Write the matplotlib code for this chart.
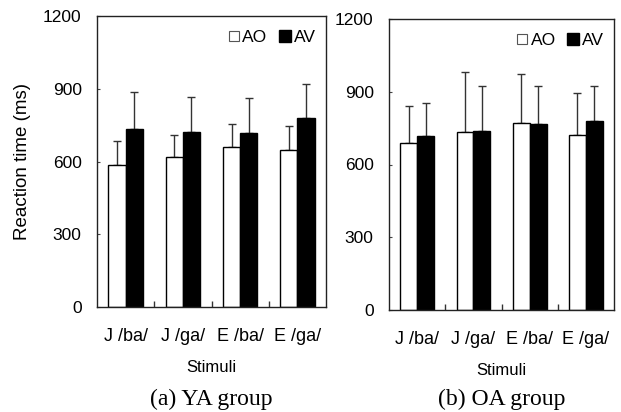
import matplotlib
matplotlib.use("Agg")
import matplotlib.pyplot as plt
import numpy as np
from matplotlib.lines import Line2D

plt.rcParams['font.family'] = ['Liberation Sans', 'DejaVu Sans']

categories = ["J /ba/", "J /ga/", "E /ba/", "E /ga/"]
ya_ao = [585, 618, 661, 647]
ya_ao_err = [98, 92, 92, 98]
ya_av = [735, 721, 717, 778]
ya_av_err = [153, 147, 143, 142]
oa_ao = [689, 735, 772, 720]
oa_ao_err = [152, 248, 202, 173]
oa_av = [717, 740, 768, 778]
oa_av_err = [138, 185, 157, 147]
yticks = [0, 300, 600, 900, 1200]

W, H = 621, 412
fig = plt.figure(figsize=(W / 100, H / 100), dpi=100)

def px_axes(x0, y0, x1, y1):
    return fig.add_axes([x0 / W, 1 - y1 / H, (x1 - x0) / W, (y1 - y0) / H])

def draw(ax, ao, ao_err, av, av_err, ylabel):
    x = np.arange(len(categories))
    bw = 0.30
    ax.bar(x - bw / 2, ao, bw, color='white', edgecolor='black', linewidth=1.0, zorder=2)
    ax.bar(x + bw / 2, av, bw, color='black', edgecolor='black', linewidth=1.0, zorder=2)
    ax.errorbar(x - bw / 2, ao, yerr=[np.zeros(len(ao)), ao_err], fmt='none',
                ecolor='#333333', elinewidth=1.0, capsize=2.6, capthick=1.0, zorder=1)
    ax.errorbar(x + bw / 2, av, yerr=[np.zeros(len(av)), av_err], fmt='none',
                ecolor='#333333', elinewidth=1.0, capsize=2.6, capthick=1.0, zorder=1)
    ax.set_xlim(-0.5, len(categories) - 0.5)
    ax.set_ylim(0, 1200)
    ax.set_yticks(yticks)
    ax.tick_params(axis='y', direction='in', length=2.5, width=0.8, color='#444444',
                   labelsize=12.5, pad=11)
    ax.set_xticks(x)
    ax.set_xticklabels(categories, fontsize=13)
    ax.tick_params(axis='x', length=0, pad=15)
    ax.set_xticks(np.arange(0.5, len(categories) - 0.5, 1), minor=True)
    ax.tick_params(axis='x', which='minor', direction='in', length=4, width=1.0, color='#333333')
    for s in ax.spines.values():
        s.set_linewidth(1.0)
        s.set_color('#222222')
    ax.set_xlabel("Stimuli", fontsize=12, labelpad=11)
    if ylabel:
        ax.set_ylabel(ylabel, fontsize=13.5, labelpad=9)
    handles = [
        Line2D([], [], marker='s', linestyle='none', markersize=7.5,
               markerfacecolor='white', markeredgecolor='#555555', markeredgewidth=0.8),
        Line2D([], [], marker='s', linestyle='none', markersize=8,
               markerfacecolor='black', markeredgecolor='black'),
    ]
    ax.legend(handles, ["AO", "AV"], ncol=2, frameon=False, loc='upper right',
              fontsize=12.5, handletextpad=0.0, columnspacing=0.5, handlelength=1.0,
              borderaxespad=0.0, bbox_to_anchor=(0.985, 0.975))

ax1 = px_axes(97, 16, 326, 307)
draw(ax1, ya_ao, ya_ao_err, ya_av, ya_av_err, "Reaction time (ms)")
ax2 = px_axes(389, 19, 614, 310)
draw(ax2, oa_ao, oa_ao_err, oa_av, oa_av_err, None)

fig.text((97 + 326) / 2 / W, 1 - 399 / H, "(a) YA group", ha='center', va='center',
         fontsize=17, family=['Liberation Serif', 'DejaVu Serif'])
fig.text((389 + 614) / 2 / W, 1 - 399 / H, "(b) OA group", ha='center', va='center',
         fontsize=17, family=['Liberation Serif', 'DejaVu Serif'])

fig.savefig("out.png", dpi=100)
